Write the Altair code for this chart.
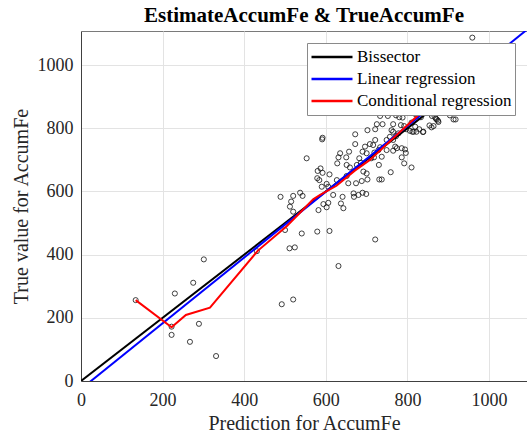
import altair as alt
import pandas as pd

# Observed pairs: model prediction vs. true AccumFe
pred = [959,
        733, 752, 772, 780, 788, 819, 833, 860, 870, 875, 886, 904, 918,
        739, 725, 721, 702, 765, 784, 792, 810, 819, 829, 839, 854, 864, 815, 806, 797, 765, 761, 778, 772, 757, 749,
        672, 592, 591, 721, 716, 708, 696, 690, 700, 719, 729, 733, 765, 770, 774, 786, 794, 765, 749, 737, 718, 711,
        730, 759, 786, 792, 810,
        672, 657, 635, 631, 650, 628, 651, 659, 676, 686, 682, 692, 700, 702, 688, 731, 737,
        553, 587, 592, 580, 579, 609, 627, 651, 655, 674, 668, 680, 690, 669, 699, 641, 618, 606, 590, 584, 602,
        537, 543, 520, 489,
        859, 838, 822, 812, 796, 913, 872, 876, 868, 859,
        515, 512, 520, 500, 541, 579, 609, 582, 594, 606, 602, 637, 643, 721, 631, 511, 524, 492, 520, 431,
        301, 275, 230, 134, 222, 222, 289, 267, 331]
true = [1087,
        839, 839, 841, 835, 834, 845, 835, 839, 830, 824, 858, 841, 828,
        813, 813, 797, 794, 813, 810, 807, 818, 805, 797, 789, 809, 807, 789, 792, 797, 789, 794, 784, 775, 773, 763,
        781, 770, 765, 763, 747, 750, 742, 726, 721, 723, 731, 740, 763, 742, 737, 737, 733, 729, 731, 710, 708, 705,
        684, 661, 708, 689, 676,
        750, 726, 721, 708, 708, 689, 684, 676, 684, 691, 705, 663, 657, 638, 633, 638, 638,
        705, 673, 659, 665, 642, 654, 636, 649, 626, 626, 594, 589, 596, 583, 592, 583, 589, 615, 615, 636, 624,
        596, 586, 586, 583,
        803, 788, 789, 789, 722, 828, 828, 820, 834, 847,
        568, 552, 536, 478, 467, 473, 475, 541, 560, 564, 550, 562, 547, 448, 364, 420, 423, 243, 258, 411,
        385, 311, 277, 256, 172, 146, 181, 124, 79]

# Reference and fitted curves
bis_x = [0, 1050]
bis_y = [0, 1050]
lin_x = [0, 1100]
lin_y = [-25.5, 1119.6]
cond_x = [134, 222, 257, 316, 433, 504, 533, 569, 586, 626, 671, 708, 773, 831, 851, 890]
cond_y = [256, 170, 209, 232, 412, 490, 528, 575, 589, 618, 666, 700, 778, 847, 860, 905]

names = ["Bissector", "Linear regression", "Conditional regression"]
colors = ["#000000", "#0000ff", "#ff0000"]
ticks = [0, 200, 400, 600, 800, 1000]
serif = "Liberation Serif"

pts = pd.DataFrame({"pred": pred, "true": true})
frames = []
for name, xs, ys in zip(names, [bis_x, lin_x, cond_x], [bis_y, lin_y, cond_y]):
    frames.append(pd.DataFrame({"pred": xs, "true": ys, "series": name, "idx": range(len(xs))}))
lines = pd.concat(frames, ignore_index=True)

x_scale = alt.Scale(domain=[0, 1093], nice=False, zero=False)
y_scale = alt.Scale(domain=[0, 1108], nice=False, zero=False)

axis_style = dict(
    grid=True, gridColor="#e3e3e3", ticks=False, domainColor="#404040", labelFlush=False,
    labelFont=serif, labelFontSize=18, labelColor="#262626",
    titleFont=serif, titleFontSize=20, titleFontWeight="normal", titleColor="#262626",
)
x_axis = alt.Axis(values=ticks, format="d", title="Prediction for AccumFe",
                  labelPadding=10, titlePadding=4, **axis_style)
y_axis = alt.Axis(values=ticks, format="d", title="True value for AccumFe",
                  labelPadding=8, titlePadding=6, **axis_style)

scatter = alt.Chart(pts).mark_point(shape="circle", filled=False, size=26, color="#111111",
                                    strokeWidth=0.8, opacity=1, clip=True).encode(
    x=alt.X("pred:Q", scale=x_scale, axis=x_axis),
    y=alt.Y("true:Q", scale=y_scale, axis=y_axis),
)

curves = alt.Chart(lines).mark_line(strokeWidth=2, clip=True).encode(
    x=alt.X("pred:Q", scale=x_scale, axis=x_axis),
    y=alt.Y("true:Q", scale=y_scale, axis=y_axis),
    color=alt.Color("series:N", scale=alt.Scale(domain=names, range=colors),
                    legend=alt.Legend(title=None, orient="none", legendX=226, legendY=12,
                                      symbolType="stroke", symbolSize=1681, symbolStrokeWidth=2.5,
                                      clipHeight=22, rowPadding=0, padding=3, labelOffset=3,
                                      labelFont=serif, labelFontSize=17, labelColor="#000000",
                                      labelLimit=300, fillColor="#ffffff", strokeColor="#8a8a8a")),
    order=alt.Order("idx:Q"),
)

chart = alt.layer(scatter, curves).properties(
    width=446, height=350,
    background="#ffffff",
    title=alt.TitleParams("EstimateAccumFe & TrueAccumFe", font=serif, fontSize=21,
                          fontWeight="bold", color="#000000", anchor="middle", offset=5),
    padding={"left": 81, "top": 31, "right": 0, "bottom": 58},
    autosize=alt.AutoSizeParams(type="none"),
).configure_view(stroke="#7a7a7a", strokeWidth=1)

chart.save("out.html", embed_options={"renderer": "svg", "actions": False})
